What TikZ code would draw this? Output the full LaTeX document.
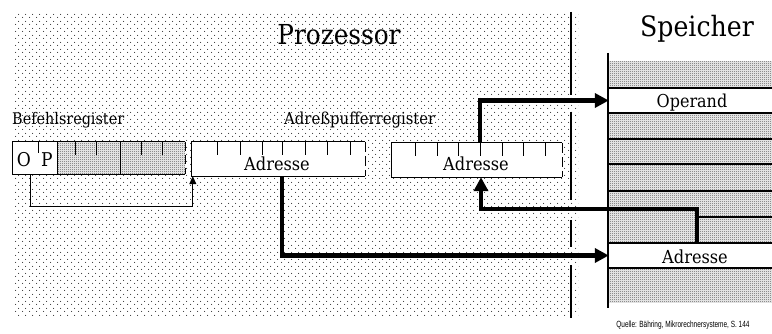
\documentclass[tikz,border=0pt]{standalone}
\usepackage{fontspec}
\setmainfont{DejaVu Serif Condensed}
\newfontfamily\quellefont{Liberation Sans}
\usetikzlibrary{patterns.meta,arrows.meta}
\tikzdeclarepattern{name=procdots, type=uncolored,
  bounding box={(0pt,0pt) and (7pt,7pt)}, tile size={(7pt,7pt)},
  code={\fill (1.75pt,1.75pt) circle (0.6pt); \fill (5.25pt,5.25pt) circle (0.6pt);}}
\tikzdeclarepattern{name=memdots, type=uncolored,
  bounding box={(0pt,0pt) and (2pt,2pt)}, tile size={(2pt,2pt)},
  code={\fill (0pt,0pt) rectangle (1pt,1pt); \fill (1pt,1pt) rectangle (2pt,2pt);}}
\tikzset{
  regbox/.style={fill=white, inner sep=0pt, draw=none},
  regline/.style={line width=1pt},
  memline/.style={line width=1.4pt},
  bigarrow/.style={line width=4.5pt, -{Triangle[length=14pt,width=14pt]}},
  thinarrow/.style={line width=1pt, -{Triangle[length=8pt,width=7pt]}},
  lbl/.style={anchor=base, inner sep=0pt},
  memfill/.style={pattern={memdots}, pattern color=black!90},
}
\begin{document}
\begin{tikzpicture}[x=1pt,y=-1pt]
\useasboundingbox (0,0) rectangle (772,334);
% processor area
\fill[pattern={procdots}, pattern color=black!80] (13,14) rectangle (578,316);
% separator
\foreach \a/\b in {12/95,112/200,220/247,265/318}
  \draw[line width=1.3pt] (571,\a) -- (571,\b);
% memory
\fill[memfill] (609,62) rectangle (772,302);
\node[regbox, minimum width=163pt, minimum height=25pt] (mop) at (690.5,100.5) {};
\node[regbox, minimum width=163pt, minimum height=25pt] (mad) at (690.5,255.5) {};
\foreach \y in {88,113,139,164,191,243,268}
  \draw[memline] (609,\y) -- (772,\y);
\draw[memline] (697,217) -- (772,217);
\draw[line width=1.5pt] (608,53) -- (608,308);
% titles
\node[lbl] (tproc) at (339,45) {\fontsize{27.5}{27.5}\selectfont Prozessor};
\node[lbl] (tmem) at (697,37) {\fontsize{28}{28}\selectfont Speicher};
\node[lbl, anchor=base west] (tbr) at (12,125) {\fontsize{16}{16}\selectfont Befehlsregister};
\node[lbl, anchor=base west] (tapr) at (284,125) {\fontsize{16.5}{16.5}\selectfont Adreßpufferregister};
% Befehlsregister
\node[regbox, minimum width=172pt, minimum height=32pt] (r1) at (99,158) {};
\fill[memfill] (57,142) rectangle (185,174);
\draw[regline] (r1.north east) -- (r1.north west) -- (r1.south west) -- (r1.south east);
\draw[regline, dash pattern=on 9pt off 4pt] (r1.north east) -- (r1.south east);
\draw[regline] (57,142) -- (57,174);
\draw[regline] (120,142) -- (120,174);
\draw[regline] (38,142) -- (38,153);
\foreach \x in {75,96,141,162} \draw[regline] (\x,142) -- (\x,155);
\node[lbl] (lo) at (24,167) {\fontsize{19}{19}\selectfont O};
\node[lbl] (lp) at (47,167) {\fontsize{19}{19}\selectfont P};
% register 2
\node[regbox, minimum width=173pt, minimum height=34pt] (r2) at (278.5,159) {};
\draw[regline] (r2.north east) -- (r2.north west) -- (r2.south west) -- (r2.south east);
\draw[regline, dash pattern=on 10pt off 4pt] (r2.north east) -- (r2.south east);
\foreach \x in {217,240,262,282,305,327,350} \draw[regline] (\x,142) -- (\x,155);
\node[lbl] (la2) at (277,171) {\fontsize{18}{18}\selectfont Adresse};
% register 3
\node[regbox, minimum width=170pt, minimum height=34pt] (r3) at (477,160) {};
\draw[regline] (r3.north east) -- (r3.north west) -- (r3.south west) -- (r3.south east);
\draw[regline, dash pattern=on 10pt off 4pt] (r3.north east) -- (r3.south east);
\foreach \x in {415,437,458,480,502,523,545} \draw[regline] (\x,143) -- (\x,156);
\node[lbl] (la3) at (476,171) {\fontsize{18}{18}\selectfont Adresse};
% memory labels
\node[lbl] (lop) at (692,108) {\fontsize{17.8}{17.8}\selectfont Operand};
\node[lbl] (lmad) at (695,263) {\fontsize{18}{18}\selectfont Adresse};
% connectors
\draw[thinarrow] ([xshift=18pt]r1.south west) -- ++(0,32) -| ([xshift=1pt]r2.south west);
\draw[bigarrow] ([xshift=3pt]r3.north) |- (mop.west);
\draw[bigarrow] ([xshift=3.5pt]r2.south) |- (mad.west);
\draw[bigarrow] ([xshift=6.5pt]mad.north) -- ++(0,-34) -| ([xshift=4pt]r3.south);
% source
\node[lbl] (src) at (683,327) {\scalebox{0.72}[1]{\quellefont\fontsize{9}{9}\selectfont Quelle: Bähring, Mikrorechnersysteme, S. 144}};
\end{tikzpicture}
\end{document}
